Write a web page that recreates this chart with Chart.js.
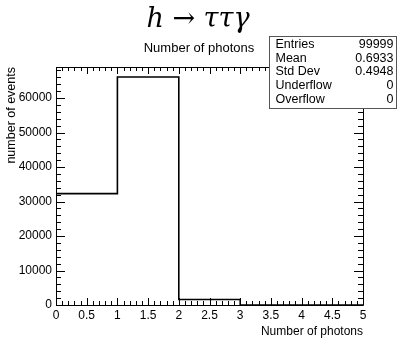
<!DOCTYPE html>
<html>
<head>
<meta charset="utf-8">
<script src="https://cdn.jsdelivr.net/npm/chart.js@4.4.1/dist/chart.umd.min.js"></script>
<style>
  html, body { margin: 0; padding: 0; background: #fff; }
  #wrap { width: 398px; height: 342px; }
</style>
</head>
<body>
<div id="wrap"><canvas id="histChart"></canvas></div>
<script>
// histogram: bin edges and contents (Number of photons)
const binEdges = [0, 1, 2, 3, 4, 5];
const binCounts = [32280, 66110, 1610, 0, 0];
const xTickValues = [0, 0.5, 1, 1.5, 2, 2.5, 3, 3.5, 4, 4.5, 5];
const yTickValues = [0, 10000, 20000, 30000, 40000, 50000, 60000];
const statNames = ["Entries", "Mean", "Std Dev", "Underflow", "Overflow"];
const statValues = ["99999", "0.6933", "0.4948", "0", "0"];

const FONT = "'Liberation Sans', Arial, sans-serif";

// step outline points: each bin's left edge, plus the last edge
const points = binEdges.map((x, i) => ({ x: x, y: binCounts[Math.min(i, binCounts.length - 1)] }));

// ROOT-like frame, inward ticks on all four sides, title and stats box
const rootFrame = {
  id: "rootFrame",
  afterDraw(chart) {
    const ctx = chart.ctx;
    const a = chart.chartArea;
    const xs = chart.scales.x, ys = chart.scales.y;
    ctx.save();
    ctx.strokeStyle = "#000";
    ctx.lineWidth = 1;
    ctx.beginPath();
    ctx.rect(Math.round(a.left) + 0.5, Math.round(a.top) + 0.5,
             Math.round(a.right - a.left), Math.round(a.bottom - a.top));
    ctx.stroke();

    ctx.beginPath();
    // x ticks: major every 0.5, minor every 0.1
    for (let i = 0; i <= 50; i++) {
      const v = i / 10;
      const px = Math.round(xs.getPixelForValue(v)) + 0.5;
      const len = (i % 5 === 0) ? 7 : 4;
      ctx.moveTo(px, a.bottom); ctx.lineTo(px, a.bottom - len);
      ctx.moveTo(px, a.top); ctx.lineTo(px, a.top + len);
    }
    // y ticks: major every 10000, minor every 2000
    for (let v = 0; v <= ys.max; v += 2000) {
      const py = Math.round(ys.getPixelForValue(v)) + 0.5;
      const len = (v % 10000 === 0) ? 9 : 5;
      ctx.moveTo(a.left, py); ctx.lineTo(a.left + len, py);
      ctx.moveTo(a.right, py); ctx.lineTo(a.right - len, py);
    }
    ctx.stroke();

    // titles
    ctx.fillStyle = "#000";
    ctx.textAlign = "center";
    ctx.textBaseline = "alphabetic";
    ctx.font = "italic 27px 'DejaVu Serif', serif";
    ctx.fillText("h \u2192 \u03C4\u03C4\u03B3", 198, 27);
    ctx.font = "13px " + FONT;
    ctx.textBaseline = "middle";
    ctx.fillText("Number of photons", 199, 48);

    // stats box
    const bx = 269.5, by = 36.5, bw = 127, bh = 72;
    ctx.fillStyle = "#fff";
    ctx.fillRect(bx, by, bw, bh);
    ctx.strokeStyle = "#555";
    ctx.strokeRect(bx, by, bw, bh);
    ctx.fillStyle = "#000";
    ctx.font = "12.5px " + FONT;
    statNames.forEach((name, i) => {
      const ty = by + 8 + i * 13.7;
      ctx.textAlign = "left";
      ctx.fillText(name, bx + 6, ty);
      ctx.textAlign = "right";
      ctx.fillText(statValues[i], bx + bw - 3, ty);
    });
    ctx.restore();
  }
};

new Chart(document.getElementById("histChart"), {
  type: "line",
  data: {
    datasets: [{
      data: points,
      stepped: "before",
      borderColor: "#000",
      borderWidth: 1.6,
      pointRadius: 0,
      fill: false,
    }],
  },
  options: {
    responsive: true,
    maintainAspectRatio: false,
    animation: false,
    layout: { padding: { left: 0, right: 35, top: 67, bottom: 0 } },
    plugins: { legend: { display: false }, tooltip: { enabled: false } },
    scales: {
      x: {
        type: "linear",
        min: 0,
        max: 5,
        grid: { display: false, drawTicks: false },
        border: { display: false },
        afterBuildTicks: (s) => { s.ticks = xTickValues.map((v) => ({ value: v })); },
        ticks: {
          autoSkip: false,
          maxRotation: 0,
          padding: 3,
          color: "#000",
          font: { family: FONT, size: 12 },
          callback: (v) => String(v),
        },
        title: {
          display: true,
          text: "Number of photons",
          align: "end",
          color: "#000",
          font: { family: FONT, size: 12 },
          padding: { top: 0, bottom: 3 },
        },
        afterFit: (s) => { s.height = 37; },
      },
      y: {
        min: 0,
        max: 69000,
        grid: { display: false, drawTicks: false },
        border: { display: false },
        afterBuildTicks: (s) => { s.ticks = yTickValues.map((v) => ({ value: v })); },
        ticks: {
          autoSkip: false,
          padding: 4,
          color: "#000",
          font: { family: FONT, size: 12 },
          callback: (v) => String(v),
        },
        title: {
          display: true,
          text: "number of events",
          align: "end",
          color: "#000",
          font: { family: FONT, size: 12.5 },
          padding: { top: 4, bottom: 0 },
        },
        afterFit: (s) => { s.width = 56; },
      },
    },
  },
  plugins: [rootFrame],
});
</script>
</body>
</html>
